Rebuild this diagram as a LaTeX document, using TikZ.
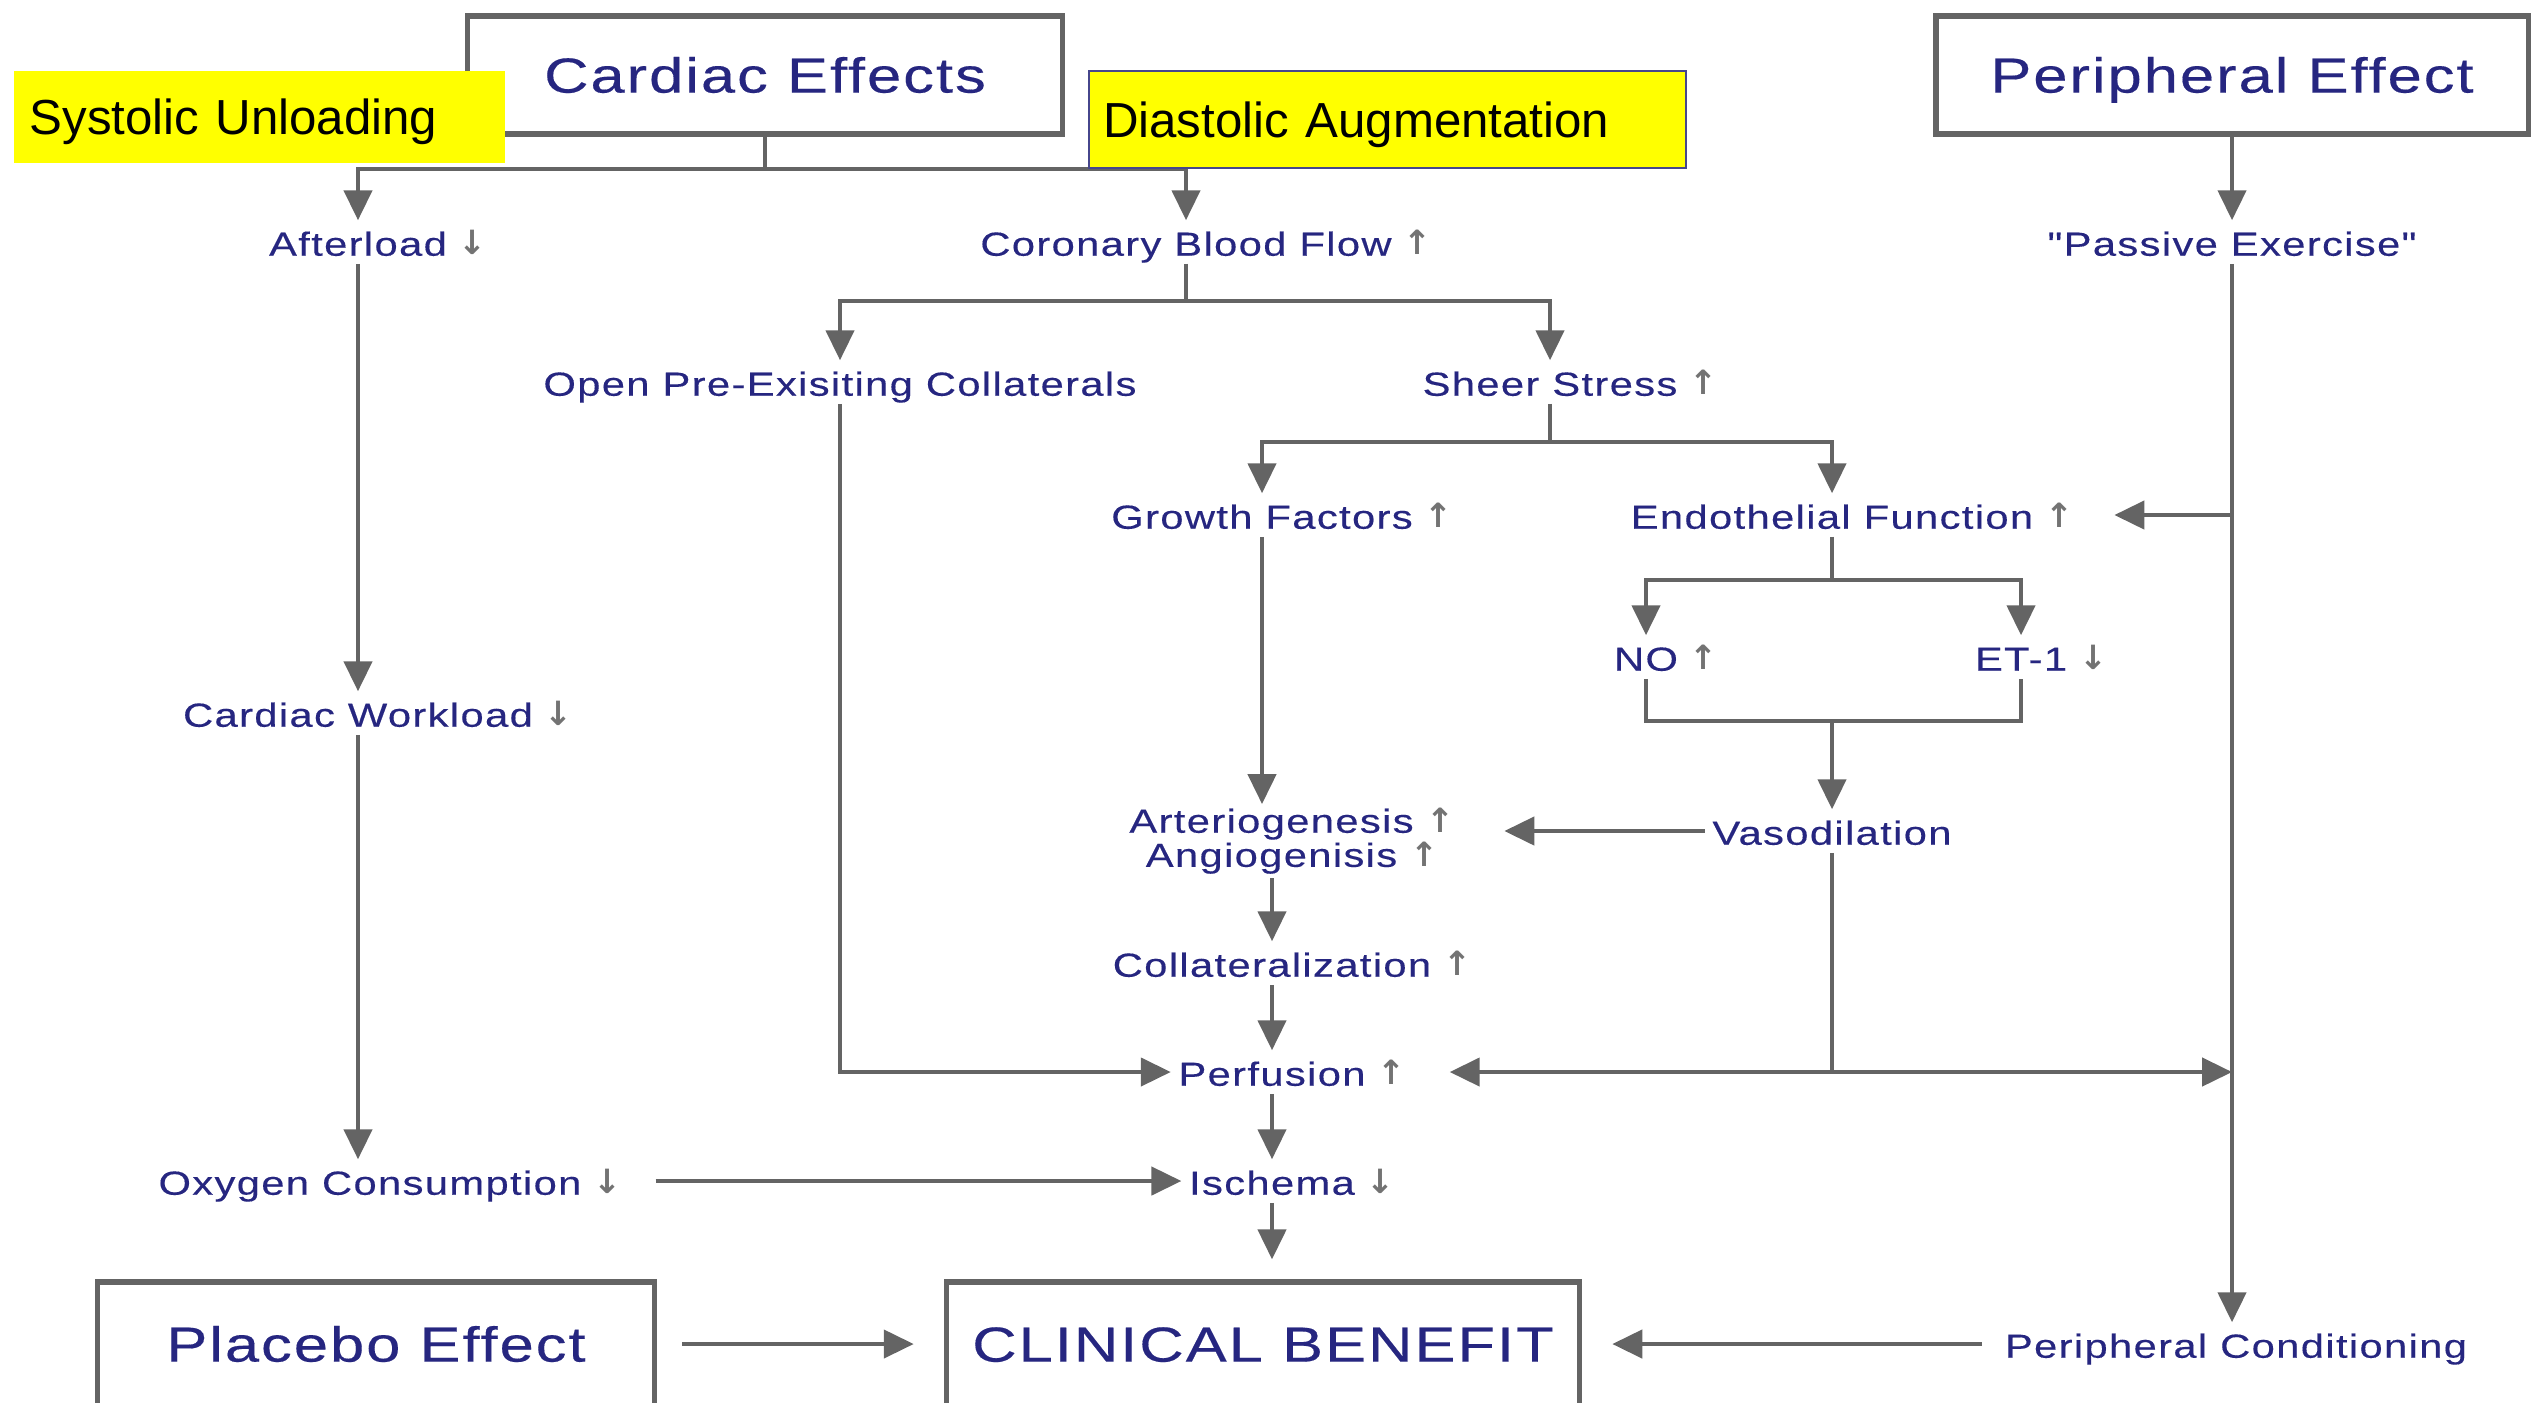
\documentclass[tikz,border=0pt]{standalone}
\usepackage{fontspec}
\setmainfont{Liberation Sans}
\newfontfamily\lblfont[FakeStretch=1.25,LetterSpace=4,FakeBold=0.3]{Liberation Sans}
\newfontfamily\symfont{DejaVu Sans}
\usepackage{xcolor}
\usepackage{tikz}
\usetikzlibrary{arrows.meta, calc}
\definecolor{navy}{RGB}{38,38,128}
\definecolor{symgray}{RGB}{115,115,115}
\definecolor{linegray}{RGB}{100,100,100}
\definecolor{notefill}{RGB}{255,255,0}
\definecolor{noteline}{RGB}{70,70,140}
\newcommand{\incr}{{\symfont\bfseries\textcolor{symgray}{↑}}}
\tikzstyle{effectbox} = [rectangle, draw=linegray, line width=1.5pt, fill=white, text=navy, font=\lblfont\fontsize{14}{16}\selectfont, minimum height=1.18cm, text height=12pt, text depth=2pt]
\tikzstyle{factorbase} = [text=navy, font=\lblfont\fontsize{9.5}{11}\selectfont, inner xsep=2pt, inner ysep=1pt]
\tikzstyle{factor} = [factorbase, text height=8.9pt, text depth=1.1pt]
\tikzstyle{sym} = [text=symgray, font=\symfont\bfseries\fontsize{9.5}{11}\selectfont, inner sep=1pt]
\tikzstyle{note} = [rectangle, fill=notefill, text=black, font=\fontsize{14}{16}\selectfont, align=left, anchor=west, text height=12pt, text depth=2pt]
\tikzstyle{arrow} = [draw=linegray, line width=1.1pt, -{Triangle[width=8pt,length=8.5pt]}]
\tikzstyle{twoway} = [draw=linegray, line width=1.1pt, {Triangle[width=8pt,length=8.5pt]}-{Triangle[width=8pt,length=8.5pt]}]
\tikzstyle{link} = [draw=linegray, line width=1.1pt]

\begin{document}
\begin{tikzpicture}[x=0.01cm, y=-0.01cm]
\useasboundingbox (0,0) rectangle (2531,1402);
\clip (0,0) rectangle (2531,1402);

    % Recuadros
    \node (cardiac) [effectbox, minimum width=5.94cm] at (765,75) {Cardiac Effects};
    \node (periph) [effectbox, minimum width=5.92cm] at (2232,75) {Peripheral Effect};
    \node (placebo) [effectbox, minimum width=5.57cm, minimum height=1.24cm] at (376,1344) {Placebo Effect};
    \node (clinical) [effectbox, minimum width=6.33cm, minimum height=1.24cm] at (1263,1344) {CLINICAL BENEFIT};

    % Nodos
    \node (afterload) [factor, label={[sym]right:↓}] at (358,242) {Afterload};
    \node (coronary) [factor, label={[sym]right:↑}] at (1186,242) {Coronary Blood Flow};
    \node (passive) [factor] at (2232,242) {"Passive Exercise"};
    \node (openpre) [factor] at (840,382) {Open Pre-Exisiting Collaterals};
    \node (sheer) [factor, label={[sym]right:↑}] at (1550,382) {Sheer Stress};
    \node (growth) [factor, label={[sym]right:↑}] at (1262,515) {Growth Factors};
    \node (endo) [factor, label={[sym,name=endosym]right:↑}] at (1832,515) {Endothelial Function};
    \node (no) [factor, label={[sym]right:↑}] at (1646,657) {NO};
    \node (et) [factor, label={[sym]right:↓}] at (2021,657) {ET-1};
    \node (workload) [factor, label={[sym]right:↓}] at (358,713) {Cardiac Workload};
    \node (vaso) [factor] at (1832,831) {Vasodilation};
    \node (arterio) [factorbase, align=center, font=\lblfont\fontsize{9.5}{9.7}\selectfont] at (1292,841) {Arteriogenesis \incr\\Angiogenisis \incr};
    \node (collat) [factor, label={[sym]right:↑}] at (1272,963) {Collateralization};
    \node (perf) [factor, label={[sym,name=perfsym]right:↑}] at (1272,1072) {Perfusion};
    \node (oxygen) [factor, label={[sym,name=oxysym]right:↓}] at (370,1181) {Oxygen Consumption};
    \node (ischema) [factor, label={[sym]right:↓}] at (1272,1181) {Ischema};
    \node (periphcond) [factor] at (2236,1344) {Peripheral Conditioning};

    % Conexiones
    \draw [arrow] (cardiac.south) -- ++(0,32) -| (afterload.north);
    \draw [arrow] (cardiac.south) -- ++(0,32) -| (coronary.north);
    \draw [arrow] (coronary.south) -- ++(0,37) -| (openpre.north);
    \draw [arrow] (coronary.south) -- ++(0,37) -| (sheer.north);
    \draw [arrow] (sheer.south) -- ++(0,38) -| (growth.north);
    \draw [arrow] (sheer.south) -- ++(0,38) -| (endo.north);
    \draw [arrow] (endo.south) -- ++(0,43) -| (no.north);
    \draw [arrow] (endo.south) -- ++(0,43) -| (et.north);
    \draw [link] (no.south) -- ++(0,42) -| (et.south);
    \draw [arrow] ($(vaso.north |- et.south)+(0,42)$) -- (vaso.north);
    \draw [arrow] (growth.south) -- (growth.south |- arterio.north);
    \draw [arrow, shorten >=0.42cm] (vaso.west) -- (arterio.east |- vaso.west);
    \draw [arrow] (collat.north |- arterio.south) -- (collat.north);
    \draw [arrow] (collat.south) -- (perf.north);
    \draw [arrow] (openpre.south) |- (perf.west);
    \draw [link] (vaso.south) -- (vaso.south |- perf);
    \draw [twoway] ([xshift=0.4cm]perfsym.east) -- (passive |- perf);
    \draw [arrow] (perf.south) -- (ischema.north);
    \draw [arrow, shorten >=0.2cm] (ischema.south) -- (ischema.south |- clinical.north);
    \draw [arrow] (afterload.south) -- (workload.north);
    \draw [arrow] (workload.south) -- (workload.south |- oxygen.north);
    \draw [arrow] ([xshift=0.3cm]oxysym.east) -- (ischema.west);
    \draw [arrow] (periph.south) -- (passive.north);
    \draw [arrow] (passive.south) -- (passive.south |- periphcond.north);
    \draw [arrow, shorten >=0.37cm] (passive |- endo) -- (endosym.east);
    \draw [arrow, shorten <=0.15cm, shorten >=0.3cm] (periphcond.west) -- (clinical.east);
    \draw [arrow, shorten <=0.25cm, shorten >=0.3cm] (placebo.east) -- (clinical.west);

    % Notas
    \node (systolic) [note, text width=4.59cm, minimum height=0.92cm, inner xsep=0.16cm] at (13,117) {Systolic Unloading};
    \node (diastolic) [note, draw=noteline, line width=0.6pt, text width=5.69cm, minimum height=0.97cm, inner xsep=0.14cm] at (1088,119.5) {Diastolic Augmentation};

\end{tikzpicture}
\end{document}
